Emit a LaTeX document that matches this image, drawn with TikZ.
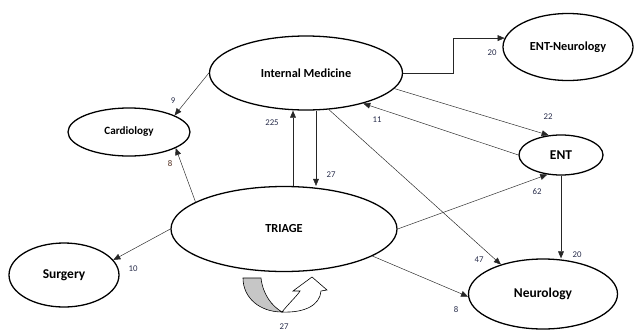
\documentclass[tikz,border=0pt]{standalone}
\usepackage{fontspec}
\setmainfont{Carlito}
\usetikzlibrary{shapes.geometric,arrows.meta}

\begin{document}
\begin{tikzpicture}[x=0.03cm,y=-0.03cm,
    dept/.style={ellipse,draw,line width=1.1pt,inner sep=0pt,font=\bfseries\fontsize{10.5}{12}\selectfont},
    arr/.style={-{Triangle[length=6pt,width=5pt]},line width=0.4pt,draw=black!85},
    num/.style={inner sep=0pt,font=\fontsize{7.5}{9}\selectfont,text=c3}]
    \colorlet{c1}{gray!45}
    \definecolor{c3}{RGB}{40,45,75}
    \definecolor{c4}{RGB}{80,45,30}

    \useasboundingbox (0,0) rectangle (636,331);

    % departments
    \node (im) at (306,73) [dept,minimum width=5.79cm,minimum height=2.22cm] {Internal Medicine};
    \node (card) at (129,132) [dept,minimum width=3.66cm,minimum height=1.44cm,font=\bfseries\fontsize{9.5}{11}\selectfont] {Cardiology};
    \node (entn) at (568,47) [dept,minimum width=3.9cm,minimum height=2.01cm] {ENT-Neurology};
    \node (ent) at (561,155) [dept,minimum width=2.52cm,minimum height=1.2cm,font=\bfseries\fontsize{11.5}{13}\selectfont] {ENT};
    \node (tri) at (284,229) [dept,minimum width=6.78cm,minimum height=2.55cm] {TRIAGE};
    \node (surg) at (64,275) [dept,minimum width=3.3cm,minimum height=1.92cm,font=\bfseries\fontsize{11.5}{13}\selectfont] {Surgery};
    \node (neuro) at (543,294) [dept,minimum width=4.47cm,minimum height=2.1cm,font=\bfseries\fontsize{11.5}{13}\selectfont] {Neurology};

    % patient flows
    \coordinate (bend) at (453,0);
    \coordinate (up) at (293,0);
    \coordinate (down) at (316,0);

    \draw[arr] (im.west) -- (card.20);
    \draw[arr] (tri.163) -- (card.-19);
    \draw[arr] (tri.north -| up) -- (im.south -| up);
    \draw[arr] (im.south -| down) -- (tri.north -| down);
    \draw[arr] (im.east) -- (im.east -| bend) |- (entn.172);
    \draw[arr] (im.-10) -- (ent.122);
    \draw[arr] (ent.west) -- (im.-28);
    \draw[arr] (im.-58) -- (neuro.145);
    \draw[arr] (tri.east) -- (ent.235);
    \draw[arr] (ent.south) -- (ent.south |- neuro.north);
    \draw[arr] (tri.-17) -- (neuro.182);
    \draw[arr] (tri.west) -- (surg.17);

    % stays in triage
    \draw[line width=0.5pt, fill=c1] (243,278) -- (261,278)
        .. controls (263,295) and (272,306) .. (282,312)
        .. controls (260,312) and (243,298) .. (243,278) -- cycle;
    \draw[line width=0.5pt, fill=white] (282,312)
        .. controls (290,302) and (297,296) .. (300,291) -- (293,291) -- (312,277) -- (327,290) -- (321,291)
        .. controls (320,305) and (305,313) .. (282,312) -- cycle;

    % counts
    \foreach \i/\pos/\txt in {a/{173,101}/9, c/{272,123}/225, d/{331,175}/27,
        e/{492,53}/20, f/{548,117}/22, g/{377,120}/11, h/{479,260}/47, k/{537,192}/62,
        l/{577,255}/20, m/{456,310}/8, n/{133,269}/10, o/{284,327}/27}
        \node[num] (n\i) at (\pos) {\txt};
    \node[num,text=c4] (nb) at (170,164) {8};

\end{tikzpicture}
\end{document}
